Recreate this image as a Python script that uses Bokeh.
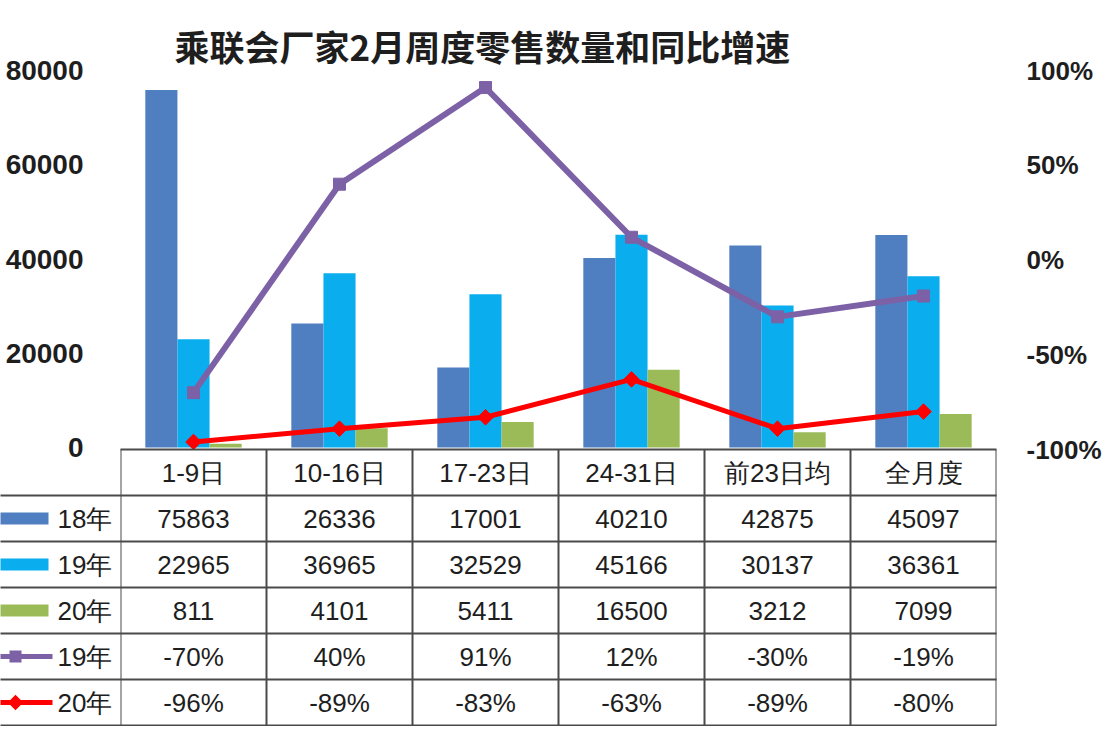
import math
from bokeh.plotting import figure
from bokeh.models import (Range1d, FactorRange, LinearAxis, FixedTicker,
                          NumeralTickFormatter, ColumnDataSource)
from bokeh.transform import dodge
from bokeh.core.properties import value
from bokeh.embed import file_html
from bokeh.resources import INLINE

# ---------------- data ----------------
title_text = "乘联会厂家2月周度零售数量和同比增速"
categories = ["1-9日", "10-16日", "17-23日", "24-31日", "前23日均", "全月度"]
sales_18 = [75863, 26336, 17001, 40210, 42875, 45097]
sales_19 = [22965, 36965, 32529, 45166, 30137, 36361]
sales_20 = [811, 4101, 5411, 16500, 3212, 7099]
growth_19 = [-70, 40, 91, 12, -30, -19]   # %
growth_20 = [-96, -89, -83, -63, -89, -80]  # %
left_ticks = [0, 20000, 40000, 60000, 80000]
right_ticks = [-100, -50, 0, 50, 100]
row_labels = ["18年", "19年", "20年", "19年", "20年"]

# ---------------- style ----------------
C18 = "#4F7FC0"
C19 = "#0AAEEE"
C20 = "#9BBB59"
CP = "#7D61A6"
CR = "#FF0000"
TXT = "#1e1e1e"
GRIDC = "#4a4a4a"

W, H = 1106, 726
FL, FT = 120, 70                  # frame left / top borders (px)
FR = W - 996                      # right border (px)
Y0_PX = 447 - FT                  # frame top -> value 0 (left axis)
YM100_PX = 449 - FT               # frame top -> -100% (right axis)
TBL_TOP_PX = 449 - FT             # frame top -> table top line
TBL_ROW_PX = 46.0                 # table row height (px)
FH = H - FT
CW = (W - FL - FR) / len(categories)

LMAX = left_ticks[-1]
l_per_px = LMAX / Y0_PX
r_per_px = 2.0 / YM100_PX

n = len(categories)
nrows = len(row_labels)
t_top = nrows + 1
t_start = t_top - (FH - TBL_TOP_PX) / TBL_ROW_PX
t_end = t_top + TBL_TOP_PX / TBL_ROW_PX

p = figure(width=W, height=H,
           x_range=FactorRange(*categories, range_padding=0),
           y_range=Range1d(LMAX - FH * l_per_px, LMAX),
           output_backend="svg", toolbar_location=None,
           x_axis_location=None, y_axis_location=None,
           min_border_left=FL, min_border_right=FR,
           min_border_top=FT, min_border_bottom=0,
           outline_line_color=None, background_fill_color="white")
p.grid.visible = False
p.extra_y_ranges = {"pct": Range1d(1 - FH * r_per_px, 1),
                    "tbl": Range1d(t_start, t_end)}

p.title.text = title_text
p.title.text_font = "Noto Sans CJK SC"
p.title.text_font_size = "35px"
p.title.text_font_style = "bold"
p.title.text_color = TXT
p.title.align = "left"
p.title.offset = 54
p.title.standoff = 0

def style_axis(ax):
    ax.axis_line_color = None
    ax.major_tick_line_color = None
    ax.minor_tick_line_color = None
    ax.major_tick_out = 0
    ax.major_tick_in = 0
    ax.minor_tick_out = 0
    ax.minor_tick_in = 0
    ax.major_label_text_font = "Liberation Sans"
    ax.major_label_text_font_style = "bold"
    ax.major_label_text_color = TXT

la = LinearAxis(ticker=FixedTicker(ticks=left_ticks),
                formatter=NumeralTickFormatter(format="0"))
style_axis(la)
la.major_label_text_font_size = "28px"
la.major_label_standoff = 37
p.add_layout(la, "left")

ra = LinearAxis(y_range_name="pct",
                ticker=FixedTicker(ticks=[t / 100 for t in right_ticks]),
                formatter=NumeralTickFormatter(format="0%"))
style_axis(ra)
ra.major_label_text_font_size = "26px"
ra.major_label_standoff = 30
p.add_layout(ra, "right")

src = ColumnDataSource(dict(
    cat=categories, s18=sales_18, s19=sales_19, s20=sales_20,
    g19=[g / 100 for g in growth_19], g20=[g / 100 for g in growth_20]))

BW = 0.22
p.vbar(x=dodge("cat", -BW, range=p.x_range), top="s18", width=BW, source=src,
       fill_color=C18, line_color=None)
p.vbar(x=dodge("cat", 0, range=p.x_range), top="s19", width=BW, source=src,
       fill_color=C19, line_color=None)
p.vbar(x=dodge("cat", BW, range=p.x_range), top="s20", width=BW, source=src,
       fill_color=C20, line_color=None)

p.line(x="cat", y="g19", source=src, y_range_name="pct",
       line_color=CP, line_width=6)
p.scatter(x="cat", y="g19", source=src, y_range_name="pct", marker="square",
          size=12, fill_color=CP, line_color=CP)
p.line(x="cat", y="g20", source=src, y_range_name="pct",
       line_color=CR, line_width=5)
p.scatter(x="cat", y="g20", source=src, y_range_name="pct", marker="square",
          angle=math.pi / 4, size=11, fill_color=CR, line_color=CR)

# ---------------- data table (same figure, own row scale) ----------------
x0 = -FL / CW          # left edge of the canvas in category units
FONT = value("Liberation Sans")

hx0 = [0] + [x0] * (nrows + 1)
hx1 = [n] * (nrows + 2)
hy = [t_top] + list(range(nrows, -1, -1))
r = p.segment(x0=hx0, y0=hy, x1=hx1, y1=hy, y_range_name="tbl",
              line_color=GRIDC, line_width=2)
r.level = "overlay"
vx = list(range(n + 1))
p.segment(x0=vx, y0=[0] * len(vx), x1=vx, y1=[t_top] * len(vx),
          y_range_name="tbl", line_color=GRIDC, line_width=2)

p.text(x=[i + 0.5 for i in range(n)], y=[nrows + 0.5] * n, text=categories,
       y_range_name="tbl", text_align="center", text_baseline="middle",
       text_font=FONT, text_font_size="26px", text_color=TXT)

rows = [
    [str(v) for v in sales_18],
    [str(v) for v in sales_19],
    [str(v) for v in sales_20],
    [f"{v}%" for v in growth_19],
    [f"{v}%" for v in growth_20],
]
cx, cy, ct = [], [], []
for ri, vals in enumerate(rows):
    for i, s in enumerate(vals):
        cx.append(i + 0.5)
        cy.append(nrows - ri - 0.5)
        ct.append(s)
p.text(x=cx, y=cy, text=ct, y_range_name="tbl", text_align="center",
       text_baseline="middle", text_font=FONT, text_font_size="26px",
       text_color=TXT)

# legend keys in the left column (outside the frame -> overlay level)
ly = [nrows - k - 0.5 for k in range(nrows)]
sw_end = x0 + 48 / CW
r = p.rect(x=[(x0 + sw_end) / 2] * 3, y=ly[:3], width=sw_end - x0, height=12,
           height_units="screen", y_range_name="tbl",
           fill_color=[C18, C19, C20], line_color=None)
r.level = "overlay"
ln_end = x0 + 52 / CW
r = p.segment(x0=[x0, x0], y0=ly[3:], x1=[ln_end, ln_end], y1=ly[3:],
              y_range_name="tbl", line_color=[CP, CR], line_width=5)
r.level = "overlay"
mk_x = x0 + 15 / CW
r = p.rect(x=[mk_x], y=[ly[3]], width=12, height=12, width_units="screen",
           height_units="screen", y_range_name="tbl",
           fill_color=CP, line_color=None)
r.level = "overlay"
r = p.rect(x=[mk_x], y=[ly[4]], width=11, height=11, width_units="screen",
           height_units="screen", angle=math.pi / 4, y_range_name="tbl",
           fill_color=CR, line_color=None)
r.level = "overlay"
r = p.text(x=[x0 + 57 / CW] * nrows, y=ly, text=row_labels,
           y_range_name="tbl", text_align="left", text_baseline="middle",
           text_font=FONT, text_font_size="26px", text_color=TXT)
r.level = "overlay"

open("out.html", "w").write(file_html(p, INLINE))
